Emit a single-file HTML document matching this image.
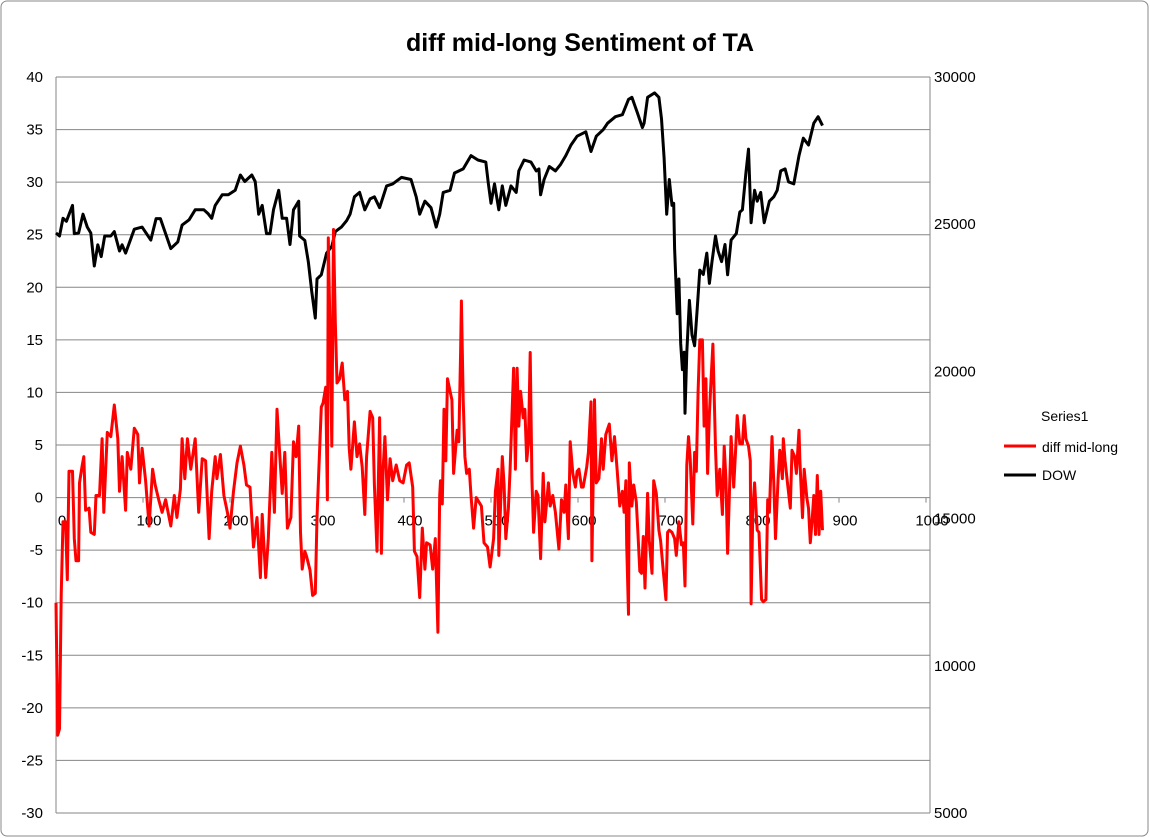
<!DOCTYPE html>
<html><head><meta charset="utf-8"><style>
html,body{margin:0;padding:0;background:#fff;}
svg{display:block;font-family:"Liberation Sans",sans-serif;}
</style></head><body>
<svg id="chart" width="1150" height="838">
<rect x="1" y="1" width="1147" height="835" rx="6" fill="#fff" stroke="#888"/>
<text x="580" y="51" text-anchor="middle" font-size="25" font-weight="bold">diff mid-long Sentiment of TA</text>
<g id="grid"></g><g id="axes"></g><g id="series"></g>
<g>
<text x="1041" y="421" font-size="14">Series1</text>
<line x1="1004" y1="446" x2="1036" y2="446" stroke="#ff0000" stroke-width="3"/>
<text x="1042" y="452" font-size="14">diff mid-long</text>
<line x1="1004" y1="475" x2="1036" y2="475" stroke="#000" stroke-width="3"/>
<text x="1042" y="480" font-size="14">DOW</text>
</g>
</svg>
<script>
const leftTicks=[40,35,30,25,20,15,10,5,0,-5,-10,-15,-20,-25,-30];
const rightTicks=[30000,25000,20000,15000,10000,5000];
const xTicks=[0,100,200,300,400,500,600,700,800,900,1000];
const diffX=[0,2,4,6,8,11,13,15,19,21,23,26,27,30,32,34,38,40,44,46,50,53,55,59,63,67,71,73,76,80,82,86,90,94,96,99,103,107,111,114,118,122,126,132,136,139,143,145,148,151,155,160,164,168,172,176,179,183,185,189,193,197,200,204,208,212,216,219,223,227,231,235,237,241,244,248,251,254,257,260,263,266,270,273,276,279,281,283,286,288,292,295,298,300,302,305,307,310,312,313,315,317,319,321,323,326,329,332,335,337,339,343,346,349,352,355,357,361,364,366,369,372,374,376,378,381,384,387,391,395,399,403,406,410,412,415,418,421,424,426,430,433,436,439,441,442,444,446,448,450,453,455,457,461,463,465,466,468,470,472,475,477,480,483,486,489,492,496,499,503,505,508,509,513,515,517,520,522,524,526,528,530,532,534,537,539,541,543,545,547,549,552,554,557,560,562,566,568,571,574,578,581,584,586,589,591,594,597,599,601,604,606,610,612,615,616,619,621,624,627,629,632,636,639,642,645,648,651,653,655,656,658,659,662,664,667,669,671,673,675,677,680,682,685,687,690,693,695,698,701,703,705,708,711,713,716,719,721,723,725,727,729,732,734,736,738,740,743,745,747,749,751,753,755,758,760,763,766,768,770,772,774,776,779,781,783,786,789,791,793,796,798,799,801,803,806,808,811,813,816,818,820,823,825,827,830,832,835,836,838,841,844,846,849,851,854,855,858,860,863,865,867,869,871,873,875,877,879,881];
const diffV=[-10,-22.6,-22,-9.3,-2.3,-2.3,-7.8,2.5,2.5,-3.9,-6,-6,1.4,3,3.9,-1.2,-1,-3.3,-3.5,0.2,0.2,5.6,-1.4,6.2,5.8,8.8,5.6,0.6,3.9,-1.2,4.3,2.7,6.6,6,1.4,4.7,1.6,-2.7,2.7,1.2,-0.2,-1.4,-0.2,-2.7,0.2,-1.9,0.8,5.6,1.8,5.6,2.7,5.6,-1.4,3.7,3.5,-3.9,0.6,3.9,1.8,4.1,0.2,-1.4,-2.9,0.6,3.3,4.9,3.1,1.2,1,-4.7,-1.9,-7.6,-1.6,-7.6,-3.9,4.3,-1.4,8.4,4.3,0.4,4.3,-2.9,-1.9,5.3,3.9,6.8,-3.3,-6.8,-5.1,-5.6,-6.9,-9.3,-9.1,-1.9,2.3,8.6,9,10.5,-0.2,24.7,15.4,4.9,25.5,16.7,10.9,11.3,12.8,9.3,10.1,4.7,2.7,7.2,3.9,5.1,2.9,-1.6,3.9,8.2,7.6,1.2,-5.1,7.6,-5.3,2.7,5.8,-0.2,3.7,1.6,3.1,1.6,1.4,3.1,3.3,1,-5.1,-5.6,-9.5,-2.9,-6.8,-4.3,-4.5,-6.8,-3.9,-12.8,0.2,1.6,-0.6,8.4,3.5,11.3,10.1,9.3,2.3,6.4,5.3,13.8,18.7,9.3,3.9,2.3,2.7,0.2,-2.9,0,-0.4,-0.8,-4.3,-4.7,-6.6,-3.9,0.6,2.7,-5.5,3.9,1.2,-3.9,-1,2.7,7.6,12.3,2.7,12.3,6.8,10.1,7.6,8.4,3.5,5.1,13.8,1.8,-3.3,0.6,0.2,-5.8,2.3,-2.3,1.4,-0.8,0.2,-1.4,-4.9,-0.2,-1.4,1.2,-3.9,5.3,2.3,1,2.5,2.7,1,1,2.9,4.3,9.1,-6,9.3,1.4,1.8,5.6,2.7,6,7,3.5,5.8,2.7,-0.8,0.6,-1.4,1.6,-4.5,-11.1,3.3,-0.8,1.2,-0.4,-3.5,-7,-7.2,-3.7,-8.6,0.4,-4.1,-7.2,1.6,0.4,-3.1,-4.1,-7,-9.7,-3.3,-3.1,-3.3,-3.9,-5.5,-2.3,-4.5,-4.3,-8.4,3.1,5.8,3.7,-2.5,4.3,2.5,10.1,15,15,6.8,11.3,2.3,8,11.3,14.6,4.7,0.2,2.7,-1.6,4.9,1.8,-5.3,0.4,5.8,1,4.3,7.8,5.1,5.1,7.8,5.6,4.9,3.5,-10.1,-1,1.4,-3.1,-3.3,-9.7,-9.9,-9.7,-0.2,-1.4,5.8,1.4,-3.9,1.8,4.5,1.8,5.6,3.5,1.2,-1,4.5,3.9,2.3,6.4,3.5,-1.9,2.7,0,-1,-4.3,-2.3,0.2,-3.5,2.1,-3.5,0.6,-3.1];
const dowX=[0,4,8,12,19,21,26,31,36,40,44,48,52,56,63,67,73,76,80,90,99,109,115,120,126,132,140,145,153,160,170,175,179,183,191,198,206,212,217,225,229,233,237,242,246,250,256,260,265,269,273,279,280,286,290,294,298,300,305,311,317,321,328,334,338,343,349,355,361,366,372,380,387,397,408,414,418,424,431,437,441,445,453,458,468,477,485,494,497,500,504,509,513,517,523,529,532,538,546,552,555,557,561,567,574,580,586,592,599,609,615,621,629,634,643,651,658,662,668,674,676,680,688,693,696,699,702,705,708,710,711,714,716,718,720,722,723,725,728,731,734,737,740,744,748,751,754,758,761,765,769,772,776,782,786,789,793,796,799,803,806,810,814,820,825,829,833,838,842,848,854,859,865,871,876,881];
const dowV=[24700,24600,25200,25100,25640,24680,24700,25340,24900,24700,23580,24300,23900,24600,24600,24750,24090,24300,24020,24830,24900,24460,25190,25190,24680,24170,24400,24970,25150,25490,25490,25350,25200,25640,26000,26000,26150,26670,26450,26670,26450,25340,25640,24680,24680,25490,26150,25200,25200,24310,25490,25780,24600,24450,23730,22700,21810,23140,23280,24020,24250,24750,24900,25120,25340,25930,26080,25490,25860,25930,25560,26300,26370,26590,26520,25930,25340,25780,25560,24900,25340,26080,26150,26740,26880,27330,27180,27110,26370,25710,26370,25490,26300,25640,26300,26080,26810,27180,27110,26810,26880,26000,26520,26960,26810,27030,27330,27690,27990,28140,27470,27990,28210,28430,28650,28720,29240,29310,28800,28280,28430,29310,29460,29310,28580,27250,25340,26520,25640,25710,24170,21960,23140,20940,20060,20650,18580,20650,22410,21240,20870,22120,23440,23290,24020,22990,23730,24600,24090,23730,24310,23280,24460,24680,25410,25490,26740,27550,25050,26150,25780,26080,25050,25780,25930,26150,26810,26880,26440,26370,27330,27920,27690,28430,28650,28350];

const NS='http://www.w3.org/2000/svg';
const X0=56,X1=926,YT=77,YB=813;
function xs(u){return X0+(u-0)/(1000-0)*(X1-X0);}
function yl(v){return YT+(40-v)/(40-(-30))*(YB-YT);}
function yr(d){return YT+(30000-d)/(30000-5000)*(YB-YT);}
function mk(tag,attrs,parent){const e=document.createElementNS(NS,tag);for(const k in attrs)e.setAttribute(k,attrs[k]);parent.appendChild(e);return e;}
const grid=document.getElementById('grid'),axes=document.getElementById('axes'),series=document.getElementById('series');
leftTicks.forEach(v=>{
  const g=mk('line',{x1:X0,x2:X1+4,y1:yl(v),y2:yl(v),stroke:'#868686','stroke-width':1},grid);
  
  
  const t=mk('text',{x:43,y:yl(v)+5,'text-anchor':'end','font-size':15},axes);
  t.textContent=v;
  
  
});
rightTicks.forEach(v=>{
  const t=mk('text',{x:934,y:yr(v)+5,'font-size':15},axes);
  t.textContent=v;
  
  
});
const la=mk('line',{x1:X0,x2:X0,y1:YT,y2:YB,stroke:'#868686'},axes);


const ra=mk('line',{x1:X1+4,x2:X1+4,y1:YT,y2:YB,stroke:'#868686'},axes);


xTicks.forEach(u=>{
  const tk=mk('line',{x1:xs(u),x2:xs(u),y1:yl(0),y2:yl(0)+5,stroke:'#868686'},axes);
  
  
  const t=mk('text',{x:xs(u)+6,y:yl(0)+28,'text-anchor':'middle','font-size':15},axes);
  t.textContent=u;
  
  
});
function path(xa,va,yf,color,name){
  let d='';xa.forEach((u,i)=>{d+=(i?'L':'M')+xs(u).toFixed(1)+' '+yf(va[i]).toFixed(1);});
  const p=mk('path',{d:d,fill:'none',stroke:color,'stroke-width':3,'stroke-linejoin':'round'},series);
  
  
}
path(dowX,dowV,yr,'#000','dow-line');
path(diffX,diffV,yl,'#ff0000','diff-mid-long-line');
</script>
</body></html>
